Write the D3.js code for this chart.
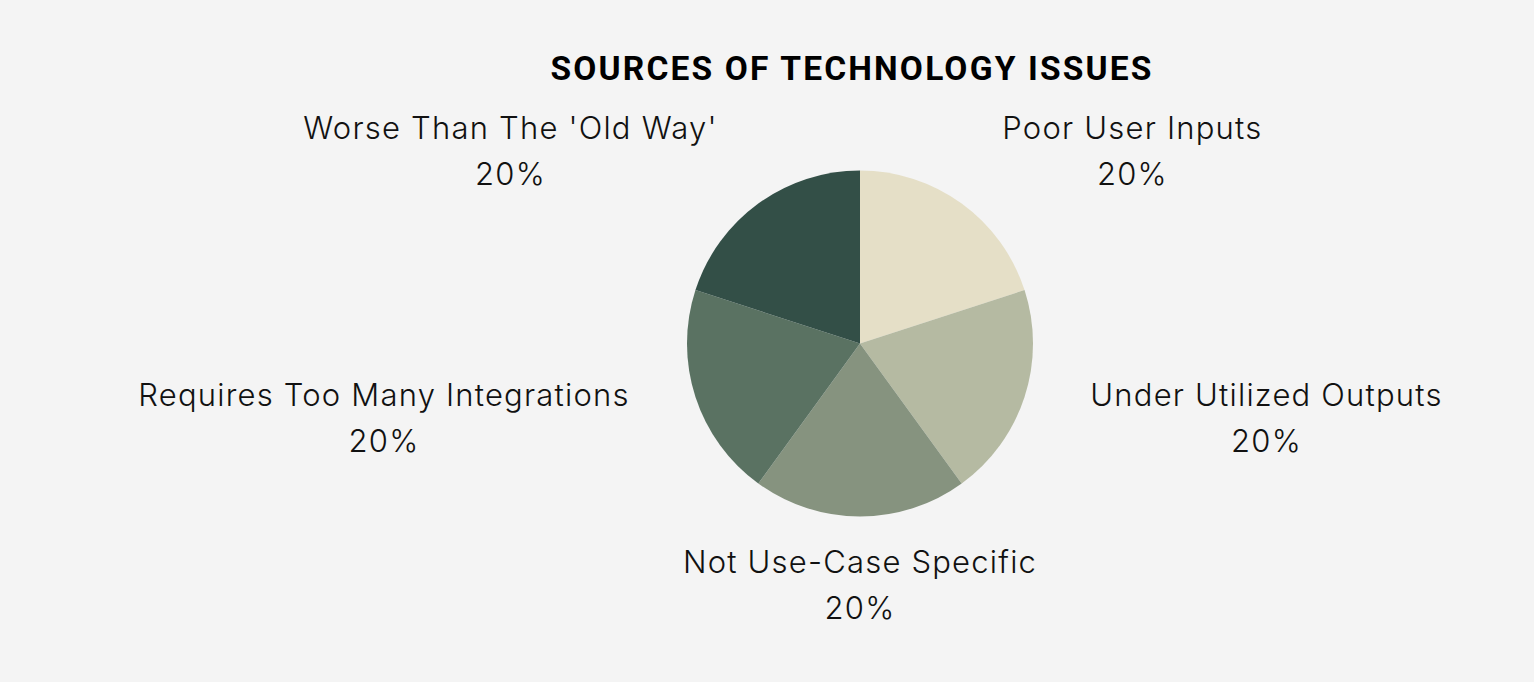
<!DOCTYPE html>
<html>
<head>
<meta charset="utf-8">
<script src="https://cdn.jsdelivr.net/npm/d3@7"></script>
<style>
  html, body { margin: 0; padding: 0; background: #f4f4f4; }
  svg { display: block; }
</style>
</head>
<body>
<svg id="chart" width="1534" height="682"></svg>
<script>
const title = "SOURCES OF TECHNOLOGY ISSUES";
const categories = ["Poor User Inputs", "Under Utilized Outputs", "Not Use-Case Specific", "Requires Too Many Integrations", "Worse Than The 'Old Way'"];
const values = [20, 20, 20, 20, 20];
const colors = ["#e5dfc7", "#b5baa2", "#86937f", "#5a7262", "#334f47"];

const W = 1534, H = 682;
const cx = 860, cy = 343.5, R = 173;
const svg = d3.select("#chart");
svg.append("rect").attr("width", W).attr("height", H).attr("fill", "#f4f4f4");

svg.append("text")
  .attr("x", 851).attr("y", 79.5)
  .attr("text-anchor", "middle")
  .attr("font-family", "Roboto, 'DejaVu Sans', sans-serif")
  .attr("font-weight", 700)
  .attr("font-size", 33.5)
  .attr("textLength", 601)
  .attr("lengthAdjust", "spacing")
  .attr("fill", "#000")
  .text(title);

const total = d3.sum(values);
const pie = d3.pie().sort(null).value(d => d.v);
const data = pie(categories.map((c, i) => ({ c, v: values[i], col: colors[i] })));
const arc = d3.arc().innerRadius(0).outerRadius(R);
const labelR = R * 1.4;

const g = svg.append("g").attr("transform", `translate(${cx},${cy})`);
g.selectAll("path").data(data).join("path")
  .attr("d", arc)
  .attr("fill", d => d.data.col);

const fmt = d3.format(".0%");
data.forEach(d => {
  const a = (d.startAngle + d.endAngle) / 2;
  const px = Math.sin(a) * labelR;
  const py = -Math.cos(a) * labelR + (Math.cos(a) > 0.5 ? 4 : 0);
  const side = Math.abs(Math.sin(a)) < 1e-6 ? 0 : Math.sign(Math.sin(a));
  const lg = g.append("g");
  const t = lg.append("text")
    .attr("text-anchor", "middle")
    .attr("font-family", "Inter, 'Open Sans', sans-serif")
    .attr("font-weight", 300)
    .attr("font-size", 31)
    .attr("letter-spacing", 1.2)
    .attr("fill", "#111");
  t.append("tspan").attr("x", 0).attr("y", -12.5).text(d.data.c);
  t.append("tspan").attr("x", 0).attr("y", 33.5).text(fmt(d.data.v / total));
  const w = t.node().getBBox().width;
  lg.attr("transform", `translate(${px + side * w / 2},${py})`);
});
</script>
</body>
</html>
